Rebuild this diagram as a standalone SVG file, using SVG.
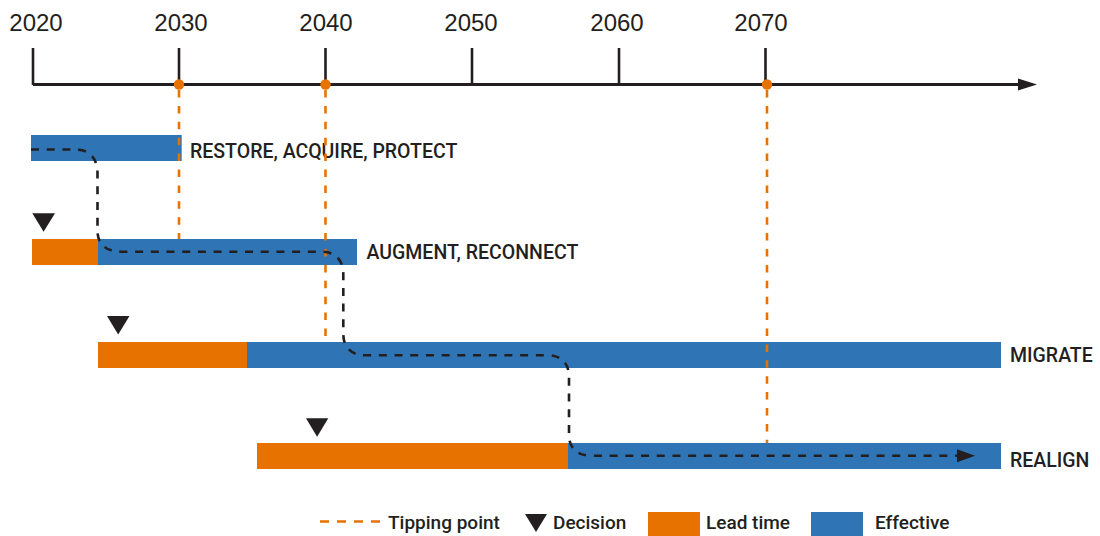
<svg xmlns="http://www.w3.org/2000/svg" width="1100" height="536" viewBox="0 0 1100 536">
  <style>
    .year { font-family: "Liberation Sans", Arial, sans-serif; font-size: 24px; fill: #231f20; text-anchor: middle; }
    .lbl { font-family: Roboto, "Liberation Sans", sans-serif; font-weight: 500; font-size: 19.5px; fill: #231f20; }
    .leg { font-family: Roboto, "Liberation Sans", sans-serif; font-weight: 500; font-size: 19px; fill: #231f20; }
    .axis { stroke: #231f20; stroke-width: 3; fill: none; }
    .tick { stroke: #231f20; stroke-width: 2.6; fill: none; }
    .tip { stroke: #e87200; stroke-width: 2.6; stroke-dasharray: 7.5 8.4; fill: none; }
    .dot { fill: #e87200; }
    .lead { fill: #e87200; }
    .eff { fill: #2f75b5; }
    .dec { fill: #231f20; }
    .path { stroke: #231f20; stroke-width: 2.6; stroke-dasharray: 8 7.7; fill: none; }
  </style>
  <defs>
    <marker id="axisHead" markerUnits="userSpaceOnUse" markerWidth="20" markerHeight="14" refX="0" refY="7" orient="auto">
      <polygon points="0,1 19,7 0,13" fill="#231f20"/>
    </marker>
    <marker id="pathHead" markerUnits="userSpaceOnUse" markerWidth="20" markerHeight="14" refX="0" refY="7" orient="auto">
      <polygon points="0,0.5 18,7 0,13.5" fill="#231f20"/>
    </marker>
  </defs>

  <g id="timeline">
    <line class="axis" x1="33" y1="84.5" x2="1018" y2="84.5" marker-end="url(#axisHead)"/>
    <line class="tick" x1="33" y1="48" x2="33" y2="85"/>
    <line class="tick" x1="179" y1="48" x2="179" y2="85"/>
    <line class="tick" x1="325.5" y1="48" x2="325.5" y2="85"/>
    <line class="tick" x1="472" y1="48" x2="472" y2="85"/>
    <line class="tick" x1="619" y1="48" x2="619" y2="85"/>
    <line class="tick" x1="765.5" y1="48" x2="765.5" y2="85"/>
    <text class="year" x="36" y="31">2020</text>
    <text class="year" x="181" y="31">2030</text>
    <text class="year" x="326" y="31">2040</text>
    <text class="year" x="471" y="31">2050</text>
    <text class="year" x="617" y="31">2060</text>
    <text class="year" x="761" y="31">2070</text>
  </g>

  <g id="restore">
    <rect class="eff" x="31" y="135" width="150.7" height="26"/>
    <text class="lbl" x="190" y="158.3">RESTORE, ACQUIRE, PROTECT</text>
  </g>

  <g id="augment">
    <polygon class="dec" points="32.3,213.3 55,213.3 43.6,231.7"/>
    <rect class="lead" x="32" y="239" width="66" height="26"/>
    <rect class="eff" x="98" y="239" width="259" height="26"/>
    <text class="lbl" x="366.5" y="259">AUGMENT, RECONNECT</text>
  </g>

  <g id="migrate">
    <polygon class="dec" points="107,316 129.5,316 118.2,334.5"/>
    <rect class="lead" x="98" y="342" width="149" height="26"/>
    <rect class="eff" x="247" y="342" width="754" height="26"/>
    <text class="lbl" x="1010" y="362.3">MIGRATE</text>
  </g>

  <g id="realign">
    <polygon class="dec" points="306,418.3 328.3,418.3 317.1,436.7"/>
    <rect class="lead" x="257" y="443" width="311" height="26"/>
    <rect class="eff" x="568" y="443" width="433" height="26"/>
    <text class="lbl" x="1010" y="466.7">REALIGN</text>
  </g>

  <g id="tipping-points">
    <line class="tip" x1="179" y1="90" x2="179" y2="239"/>
    <line class="tip" x1="325.5" y1="90" x2="325.5" y2="342"/>
    <line class="tip" x1="767" y1="90" x2="767" y2="443"/>
    <circle class="dot" cx="179" cy="84.5" r="5.2"/>
    <circle class="dot" cx="325.5" cy="84.5" r="5.2"/>
    <circle class="dot" cx="767" cy="84.5" r="5.2"/>
  </g>

  <g id="connectors">
    <path class="path" d="M31,149.5 H76 C89,149.5 97.5,158 97.5,173 V231 C97.5,244 106,251.7 121,251.7 H322 C335,251.7 343.3,260 343.3,274 V334 C343.3,347 351,355.3 365,355.3 H548 C561,355.3 569,363 569,377 V435 C569,448 577,455.7 591,455.7 H957" marker-end="url(#pathHead)"/>
  </g>

  <g id="legend">
    <line class="tip" x1="320" y1="521.5" x2="381" y2="521.5" style="stroke-dasharray: 9 8"/>
    <text class="leg" x="388" y="529">Tipping point</text>
    <polygon class="dec" points="525,514 547,514 536,532"/>
    <text class="leg" x="553" y="529">Decision</text>
    <rect class="lead" x="648" y="512" width="52" height="24"/>
    <text class="leg" x="706" y="529">Lead time</text>
    <rect class="eff" x="811" y="512" width="52" height="24"/>
    <text class="leg" x="875" y="529">Effective</text>
  </g>
</svg>
